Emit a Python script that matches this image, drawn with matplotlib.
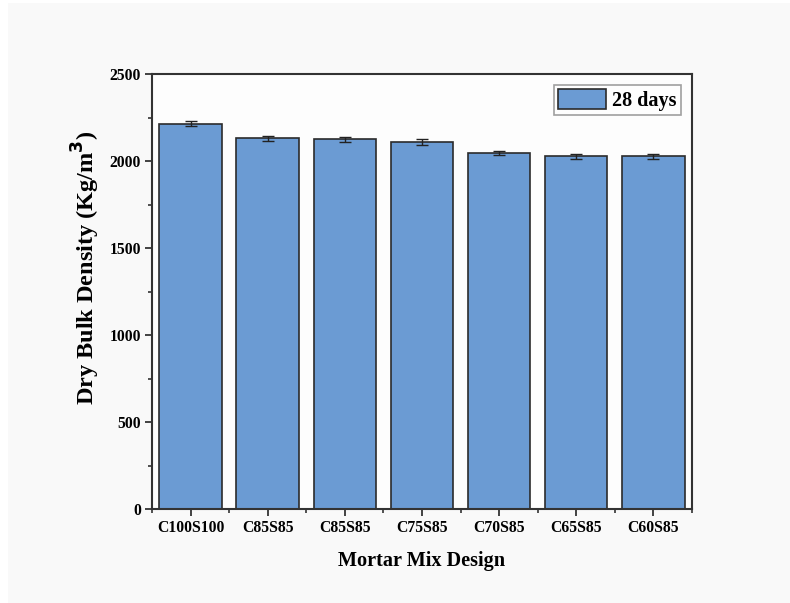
import numpy as np
import matplotlib
matplotlib.use("Agg")
import matplotlib.pyplot as plt
from matplotlib.patches import Rectangle
from matplotlib.ticker import MultipleLocator, FixedLocator

# dry bulk density at 28 days for each mortar mix
mixes = ["C100S100", "C85S85", "C85S85", "C75S85", "C70S85", "C65S85", "C60S85"]
density = [2215, 2133, 2126, 2110, 2047, 2028, 2028]
density_err = [14, 14, 13, 15, 12, 15, 13]

plt.rcParams['font.family'] = ['Liberation Serif', 'DejaVu Serif']
plt.rcParams['font.weight'] = 'bold'

fig = plt.figure(figsize=(7.9, 6.03), dpi=100, facecolor='white')
# light panel behind the plot
fig.patches.append(Rectangle((8 / 790, 0), 1, 1 - 3 / 603, transform=fig.transFigure,
                             facecolor='#f9f9f9', edgecolor='none', zorder=-10))

ax = fig.add_axes([0.1924, 0.1559, 0.6835, 0.7209])
ax.set_facecolor('#fdfdfd')

x = np.arange(len(mixes))
ax.bar(x, density, width=0.81, color='#6b9bd3', edgecolor='#2b2b2b', linewidth=1.2,
       yerr=density_err, capsize=4, error_kw=dict(ecolor='#222222', elinewidth=1, capthick=1),
       label='28 days')

ax.set_xlim(-0.5, len(mixes) - 0.5)
ax.set_ylim(0, 2500)
ax.set_xticks(x)
ax.set_xticklabels(mixes, fontsize=11.3, fontweight='bold')
ax.xaxis.set_minor_locator(FixedLocator(np.arange(-0.5, len(mixes), 1.0)))
ax.yaxis.set_major_locator(MultipleLocator(500))
ax.yaxis.set_minor_locator(MultipleLocator(250))
for lab in ax.get_yticklabels():
    lab.set_fontsize(11.3)
    lab.set_fontweight('bold')

ax.tick_params(which='major', direction='out', length=5, width=1.3, colors='#333333',
               labelcolor='black', pad=3)
ax.tick_params(which='minor', direction='out', length=3, width=1.2, colors='#333333')
for s in ax.spines.values():
    s.set_linewidth(1.5)
    s.set_color('#333333')

ax.set_xlabel('Mortar Mix Design', fontsize=14.6, fontweight='bold', labelpad=11)
ax.set_ylabel('Dry Bulk Density (Kg/m$^\\mathbf{3}$)', fontsize=17.5, fontweight='bold')
ax.yaxis.set_label_coords(-0.092, 0.555)

leg = ax.legend(loc='upper right', fontsize=14.5, frameon=True, fancybox=False,
                handlelength=2.4, handleheight=1.1, borderpad=0.2, handletextpad=0.3,
                borderaxespad=0.55)
leg.get_frame().set_edgecolor('#888888')
leg.get_frame().set_linewidth(1.2)

fig.savefig('out.png', dpi=100, facecolor=fig.get_facecolor())
